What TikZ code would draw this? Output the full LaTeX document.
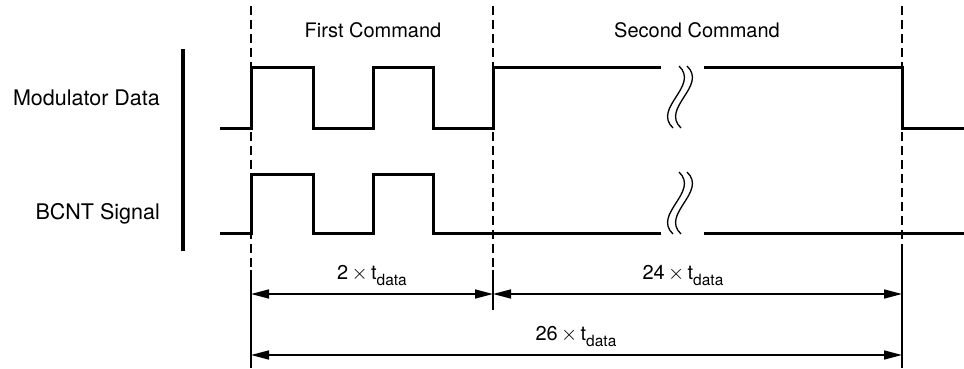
\documentclass[tikz,border=0pt]{standalone}
\usepackage{fontspec}
\setmainfont{TeX Gyre Heros}
\usetikzlibrary{arrows.meta}
\tikzset{
  sig/.style={line width=3pt, line join=miter},
  guide/.style={line width=1.4pt, dash pattern=on 9pt off 5pt},
  guidesolid/.style={line width=1.4pt},
  dim/.style={line width=1.6pt, {Triangle[length=18pt,width=9pt]}-{Triangle[length=18pt,width=9pt]}},
  brk/.style={line width=1.3pt},
  lbl/.style={font=\fontsize{20}{24}\selectfont, inner sep=0pt, anchor=base},
  side/.style={font=\fontsize{21.5}{24}\selectfont, inner sep=0pt, anchor=base east},
}
\newcommand{\tdata}{t\raisebox{-0.32em}{\fontsize{15.5}{15.5}\selectfont data}}
\newcommand{\tms}{\,$\times$\,}
\begin{document}
\begin{tikzpicture}[x=1pt,y=-1pt]
\useasboundingbox (0,0) rectangle (964,368);
% guides
\coordinate (gA) at (251,6);  \coordinate (gAm) at (251,270); \coordinate (gAb) at (251,368);
\coordinate (gB) at (493,6);  \coordinate (gBm) at (493,270); \coordinate (gBb) at (493,310);
\coordinate (gC) at (902,6);  \coordinate (gCm) at (902,245); \coordinate (gCb) at (902,368);
\draw[guide] (gA) -- (gAm); \draw[guidesolid] (gAm) -- (gAb);
\draw[guide] (gB) -- (gBm); \draw[guidesolid] (gBm) -- (gBb);
\draw[guide] (gC) -- (gCm); \draw[guidesolid] (gCm) -- (gCb);
% labels
\node[side] (lm) at (160,105) {Modulator Data};
\node[side] (lb) at (160,219) {BCNT Signal};
\coordinate (barT) at (183,49); \coordinate (barB) at (183,251);
\draw[line width=4pt] (barT) -- (barB);
\node[lbl] (fc) at (373,37) {First Command};
\node[lbl] (sc) at (697,37) {Second Command};
% Modulator data
\draw[sig] (220,128) -- (251,128) -- (251,67) -- (313,67) -- (313,128) -- (373,128) -- (373,67)
  -- (433,67) -- (433,128) -- (493,128) -- (493,67) -- (661,67);
\draw[sig] (704,67) -- (902,67) -- (902,128) -- (964,128);
% BCNT
\draw[sig] (220,233) -- (251,233) -- (251,174) -- (313,174) -- (313,233) -- (373,233) -- (373,174)
  -- (433,174) -- (433,233) -- (661,233);
\draw[sig] (704,233) -- (964,233);
% breaks
\foreach \dy in {0,106}{
  \foreach \dx in {0,8}{
    \draw[brk] (679+\dx,66+\dy) .. controls (700+\dx,86+\dy) and (652+\dx,108+\dy) .. (673+\dx,128+\dy);
  }
}
% dimensions
\coordinate (d1a) at (251,294); \coordinate (d1b) at (493,294); \coordinate (d1c) at (902,294);
\coordinate (d2a) at (251,355); \coordinate (d2b) at (902,355);
\draw[dim] (d1a) -- (d1b);
\draw[dim] (d1b) -- (d1c);
\draw[dim] (d2a) -- (d2b);
\node[lbl] (t1) at (372,279) {2\tms\tdata};
\node[lbl] (t2) at (683,279) {24\tms\tdata};
\node[lbl] (t3) at (576,340) {26\tms\tdata};
\end{tikzpicture}
\end{document}
